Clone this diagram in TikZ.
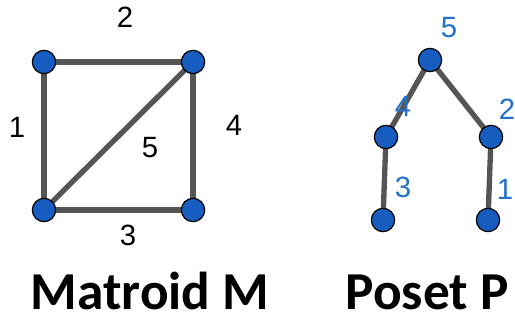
\documentclass[tikz,border=0pt]{standalone}
\usepackage{fontspec}
\usetikzlibrary{backgrounds}
\setmainfont{Liberation Sans}
\newfontfamily\captionfont{Carlito}
\definecolor{vblue}{RGB}{22,93,191}
\definecolor{lblue}{RGB}{34,112,200}
\definecolor{egray}{RGB}{85,85,85}

\tikzset{every picture/.style={line width=0.75pt}}
\tikzset{
  vert/.style={circle,draw=black,line width=0.9pt,fill=vblue,minimum size=17.5pt,inner sep=0pt},
  edge/.style={draw=egray,line width=4pt},
  elabel/.style={font=\fontsize{22}{26}\selectfont},
  plabel/.style={font=\fontsize{22}{26}\selectfont,text=lblue},
  title/.style={font=\captionfont\bfseries\fontsize{40}{46}\selectfont}
}

\begin{document}
\begin{tikzpicture}[x=0.75pt,y=0.75pt,yscale=-1,xscale=1]
	\useasboundingbox (0,0) rectangle (515,324);

	% matroid vertices
	\node[vert] (tl) at (44,62) {};
	\node[vert] (tr) at (193,62) {};
	\node[vert] (bl) at (44,210) {};
	\node[vert] (br) at (193,210) {};

	% edge labels
	\node[elabel] (e1) at (17,127) {1};
	\node[elabel] (e2) at (125,17) {2};
	\node[elabel] (e3) at (128,235) {3};
	\node[elabel] (e4) at (234,125) {4};
	\node[elabel] (e5) at (150,148) {5};

	% poset elements
	\node[vert] (p5) at (430,60) {};
	\node[vert] (p4) at (386,137) {};
	\node[vert] (p2) at (491,137) {};
	\node[vert] (p3) at (383,220) {};
	\node[vert] (p1) at (488,220) {};

	% element labels
	\node[plabel] (l5) at (449,28) {5};
	\node[plabel] (l4) at (403,106) {4};
	\node[plabel] (l2) at (507,109) {2};
	\node[plabel] (l3) at (403,187) {3};
	\node[plabel] (l1) at (505,189) {1};

	% edges go under the vertices
	\begin{scope}[on background layer]
		\draw[edge] (tl.center) -- (tr.center);
		\draw[edge] (tl.center) -- (bl.center);
		\draw[edge] (bl.center) -- (br.center);
		\draw[edge] (tr.center) -- (br.center);
		\draw[edge] (bl.center) -- (tr.center);
		\draw[edge] (p5.center) -- (p4.center);
		\draw[edge] (p5.center) -- (p2.center);
		\draw[edge] (p4.center) -- (p3.center);
		\draw[edge] (p2.center) -- (p1.center);
	\end{scope}

	% titles
	\node[title] (tM) at (150,291) {Matroid M};
	\node[title] (tP) at (427,292) {Poset P};

\end{tikzpicture}
\end{document}
